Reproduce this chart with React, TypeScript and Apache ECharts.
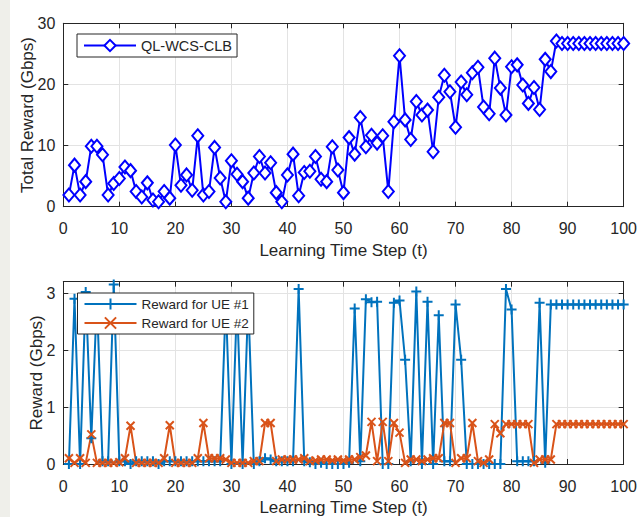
import React, { useEffect, useRef } from "react";
import * as echarts from "echarts";

const steps: number[] = Array.from({ length: 100 }, (_, i) => i + 1);

const totalReward: number[] = [
  1.9, 6.8, 1.9, 4.1, 9.9, 9.9, 8.5, 1.9, 3.8, 4.6,
  6.5, 5.9, 2.5, 1.6, 3.9, 1.1, 0.8, 2.5, 1.4, 10.1,
  3.5, 5.2, 2.7, 11.6, 1.9, 2.5, 9.7, 4.7, 0.8, 7.5,
  5.3, 4.1, 1.4, 5.5, 8.2, 5.5, 7.2, 2.3, 0.8, 5.2,
  8.6, 1.8, 5.6, 5.8, 8.2, 4.5, 4.1, 9.8, 6.0, 2.3,
  11.3, 8.6, 14.6, 9.8, 11.7, 10.4, 11.6, 2.5, 13.9, 24.7,
  14.2, 11.0, 17.2, 15.0, 15.8, 9.0, 17.9, 21.5, 18.8, 13.0,
  20.4, 18.3, 21.9, 22.8, 16.3, 15.2, 24.3, 19.4, 15.0, 22.9,
  23.2, 19.9, 16.9, 19.5, 15.9, 24.1, 22.1, 27.1, 26.7, 26.7,
  26.7, 26.7, 26.7, 26.7, 26.7, 26.7, 26.7, 26.7, 26.7, 26.7,
];

const rewardUE1: number[] = [
  0.0, 2.9, 0.0, 3.02, 0.45, 2.9, 0.05, 0.05, 3.15, 0.05,
  0.05, 0.0, 0.05, 0.05, 0.05, 0.05, 0.0, 0.05, 0.05, 0.05,
  0.05, 0.05, 0.05, 0.05, 0.05, 0.05, 0.05, 0.05, 2.85, 0.0,
  2.85, 0.0, 2.85, 0.0, 0.05, 0.1, 0.08, 0.05, 0.05, 0.05,
  0.05, 3.07, 0.05, 0.03, 0.0, 0.02, 0.0, 0.0, 0.0, 0.0,
  0.02, 2.73, 0.05, 2.89, 2.84, 2.85, 0.0, 0.0, 2.83, 2.87,
  1.83, 0.05, 3.03, 0.0, 2.85, 0.0, 2.61, 0.05, 0.05, 2.8,
  1.83, 0.0, 0.0, 0.0, 0.0, 0.0, 0.0, 0.0, 3.07, 2.71,
  0.05, 0.05, 0.05, 0.05, 2.83, 0.02, 2.8, 2.8, 2.8, 2.8,
  2.8, 2.8, 2.8, 2.8, 2.8, 2.8, 2.8, 2.8, 2.8, 2.8,
];

const rewardUE2: number[] = [
  0.1, 0.02, 0.1, 0.02, 0.52, 0.02, 0.02, 0.02, 0.02, 0.03,
  0.1, 0.67, 0.02, 0.02, 0.02, 0.02, 0.02, 0.1, 0.68, 0.02,
  0.02, 0.02, 0.02, 0.1, 0.72, 0.1, 0.1, 0.1, 0.08, 0.02,
  0.02, 0.02, 0.02, 0.05, 0.05, 0.72, 0.72, 0.05, 0.08, 0.08,
  0.08, 0.08, 0.1, 0.05, 0.06, 0.08, 0.08, 0.06, 0.08, 0.06,
  0.08, 0.08, 0.12, 0.15, 0.74, 0.05, 0.74, 0.05, 0.72, 0.55,
  0.02, 0.08, 0.08, 0.05, 0.08, 0.1, 0.1, 0.72, 0.72, 0.02,
  0.1, 0.1, 0.72, 0.05, 0.02, 0.08, 0.7, 0.54, 0.7, 0.7,
  0.7, 0.7, 0.7, 0.02, 0.08, 0.08, 0.08, 0.7, 0.7, 0.7,
  0.7, 0.7, 0.7, 0.7, 0.7, 0.7, 0.7, 0.7, 0.7, 0.7,
];

const xTicks = { min: 0, max: 100, interval: 10 };
const topY = { min: 0, max: 30, interval: 10 };
const bottomY = { min: 0, max: 3.2, interval: 1 };

const FONT = "'Liberation Sans', Arial, Helvetica, sans-serif";
const AX = "#262626";
const GRIDC = "#e3e3e3";

function pairs(ys: number[]) {
  return steps.map((x, i) => [x, ys[i]]);
}

function xAxes(gridIndex: number) {
  const common = {
    type: "value",
    gridIndex,
    min: xTicks.min,
    max: xTicks.max,
    interval: xTicks.interval,
    axisLine: { show: true, onZero: false, lineStyle: { color: AX, width: 1 } },
    axisTick: { show: true, inside: true, length: 5, lineStyle: { color: AX } },
  };
  return [
    {
      ...common,
      position: "bottom",
      axisLabel: { show: true, margin: 14, color: AX, fontSize: 16, fontFamily: FONT },
      splitLine: { show: true, lineStyle: { color: GRIDC, width: 1 } },
      name: "Learning Time Step (t)",
      nameLocation: "middle",
      nameGap: 35,
      nameMoveOverlap: false,
      nameTextStyle: { color: AX, fontSize: 17, fontFamily: FONT },
    },
    {
      ...common,
      position: "top",
      axisLabel: { show: false },
      splitLine: { show: false },
    },
  ];
}

function yAxes(gridIndex: number, range: any, name: string, nameGap: number) {
  const common = {
    type: "value",
    gridIndex,
    min: range.min,
    max: range.max,
    interval: range.interval,
    axisLine: { show: true, onZero: false, lineStyle: { color: AX, width: 1 } },
    axisTick: { show: true, inside: true, length: 5, lineStyle: { color: AX } },
  };
  return [
    {
      ...common,
      position: "left",
      axisLabel: {
        show: true,
        margin: 8,
        color: AX,
        fontSize: 16,
        fontFamily: FONT,
        showMaxLabel: range.max % range.interval === 0,
      },
      splitLine: { show: true, lineStyle: { color: GRIDC, width: 1 } },
      name,
      nameLocation: "middle",
      nameGap,
      nameMoveOverlap: false,
      nameTextStyle: { color: AX, fontSize: 17, fontFamily: FONT },
    },
    {
      ...common,
      position: "right",
      axisLabel: { show: false },
      splitLine: { show: false },
    },
  ];
}

const plusPath = "path://M0,6L12,6M6,0L6,12";
const crossPath = "path://M0,0L10,10M10,0L0,10";

export default function App() {
  const ref = useRef<HTMLDivElement>(null);

  useEffect(() => {
    document.body.style.margin = "0";
    if (!ref.current) return;
    const chart = echarts.init(ref.current, undefined, { renderer: "svg" });
    const legendCommon = {
      orient: "vertical",
      itemWidth: 52,
      itemHeight: 14,
      itemGap: 5,
      borderColor: AX,
      borderWidth: 1,
      borderRadius: 0,
      backgroundColor: "#ffffff",
    };
    const option: any = {
      animation: false,
      backgroundColor: "#ffffff",
      graphic: [
        {
          type: "rect",
          left: 0,
          top: 0,
          shape: { width: 10, height: 517 },
          style: { fill: "#efefea" },
          silent: true,
        },
      ],
      grid: [
        { left: 63.3, top: 23.3, width: 561, height: 183.4, show: false },
        { left: 63.3, top: 281.7, width: 561, height: 182.6, show: false },
      ],
      xAxis: [...xAxes(0), ...xAxes(1)],
      yAxis: [
        ...yAxes(0, topY, "Total Reward (Gbps)", 27),
        ...yAxes(1, bottomY, "Reward (Gbps)", 18),
      ],
      legend: [
        {
          ...legendCommon,
          left: 77,
          top: 34,
          padding: [4, 5, 4, 6],
          textStyle: { color: AX, fontSize: 14.5, fontFamily: FONT },
          data: ["QL-WCS-CLB"],
        },
        {
          ...legendCommon,
          left: 77.5,
          top: 293,
          padding: [4, 5, 4, 6],
          textStyle: { color: AX, fontSize: 13.5, fontFamily: FONT },
          data: ["Reward for UE #1", "Reward for UE #2"],
        },
      ],
      series: [
        {
          name: "QL-WCS-CLB",
          type: "line",
          xAxisIndex: 0,
          yAxisIndex: 0,
          data: pairs(totalReward),
          symbol: "emptyDiamond",
          symbolSize: [11, 13],
          showAllSymbol: true,
          lineStyle: { color: "#0000ff", width: 2 },
          itemStyle: { color: "#0000ff", borderColor: "#0000ff", borderWidth: 2 },
        },
        {
          name: "Reward for UE #1",
          type: "line",
          xAxisIndex: 2,
          yAxisIndex: 2,
          data: pairs(rewardUE1),
          symbol: plusPath,
          symbolSize: 10,
          showAllSymbol: true,
          lineStyle: { color: "#0072BD", width: 2 },
          itemStyle: { color: "#0072BD", borderColor: "#0072BD", borderWidth: 2 },
        },
        {
          name: "Reward for UE #2",
          type: "line",
          xAxisIndex: 2,
          yAxisIndex: 2,
          data: pairs(rewardUE2),
          symbol: crossPath,
          symbolSize: 8,
          showAllSymbol: true,
          lineStyle: { color: "#D95319", width: 2 },
          itemStyle: { color: "#D95319", borderColor: "#D95319", borderWidth: 2 },
        },
      ],
    };
    chart.setOption(option);
    return () => chart.dispose();
  }, []);

  return (
    <div
      ref={ref}
      style={{ position: "fixed", left: 0, top: 0, width: 640, height: 517, background: "#fff" }}
    />
  );
}
